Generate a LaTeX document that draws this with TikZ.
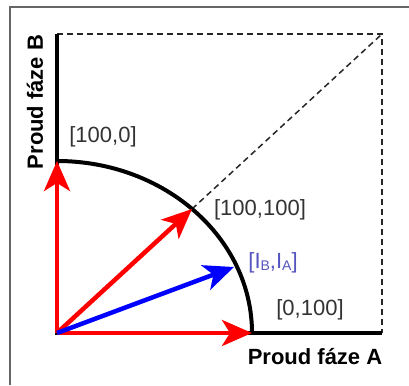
\documentclass[tikz,border=0pt]{standalone}
\usepackage{fontspec}
\setmainfont{Liberation Sans}
\usetikzlibrary{arrows.meta}
\newcommand{\sub}[1]{\raisebox{-1.5pt}{\fontsize{14}{14}\selectfont #1}}
\begin{document}
\begin{tikzpicture}[x=1pt,y=1pt,
  axis/.style={line width=4pt,black},
  guide/.style={line width=1.5pt,dash pattern=on 6pt off 4pt,black!85},
  vec/.style={line width=4.5pt,-{Stealth[length=30pt,width=26pt,inset=8pt]}},
  lbl/.style={text=black!80,font=\fontsize{22}{26}\selectfont,inner sep=0pt},
  axlbl/.style={text=black,font=\fontsize{22}{26}\selectfont\bfseries,inner sep=0pt}]
\useasboundingbox (0,0) rectangle (409,385);
% frame
\draw[line width=1.5pt,black!60] (10,0) -- (10,378) -- (409,378);

% points
\coordinate (O) at (57,52);
\coordinate (topB) at (57,351);
\coordinate (endA) at (382,52);
\coordinate (corner) at (382,351);
\coordinate (pA) at (252,52);
\coordinate (pB) at (57,224);
\coordinate (pAB) at (192,176);
\coordinate (pI) at (234,118);

% dashed guides
\draw[guide] (topB) -- (corner) -- (endA);
\draw[guide] (pAB) -- (corner);

% axes and arc
\draw[axis] (topB) -- (O) -- (endA);
\draw[axis] (pA) arc[start angle=0,end angle=90,x radius=195,y radius=172];

% vectors
\draw[vec,red] (O) -- (pB);
\draw[vec,red] (O) -- (pA);
\draw[vec,red] (O) -- (pAB);
\draw[vec,blue] (O) -- (pI);

\node[lbl] (lB) at (103,248) {[100,0]};
\node[lbl] (lAB) at (260,175) {[100,100]};
\node[lbl,text={rgb,255:red,85;green,85;blue,190}] (lI) at (273,122) {[I\sub{B},I\sub{A}]};
\node[lbl] (lA) at (310,75) {[0,100]};
\node[axlbl] (axA) at (315,28) {Proud fáze A};
\node[axlbl,rotate=90] (axB) at (35,283) {Proud fáze B};
\end{tikzpicture}
\end{document}
